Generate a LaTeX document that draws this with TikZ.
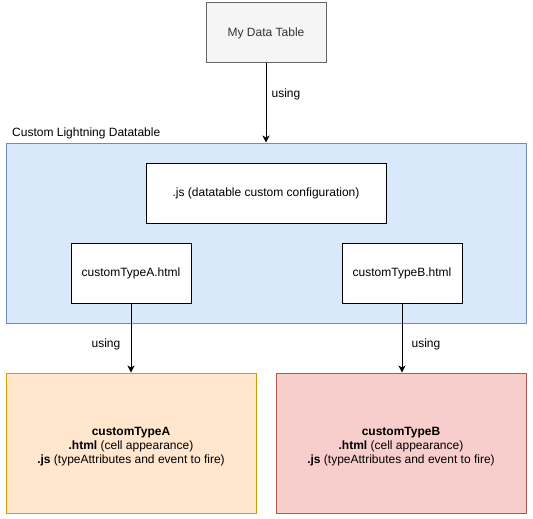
\documentclass[tikz,border=0pt]{standalone}
\usepackage{fontspec}
\setmainfont{Liberation Sans}
\usetikzlibrary{arrows.meta}
\definecolor{grayfill}{HTML}{F5F5F5}
\definecolor{grayline}{HTML}{666666}
\definecolor{graytext}{HTML}{333333}
\definecolor{bluefill}{HTML}{DAE8FC}
\definecolor{blueline}{HTML}{6C8EBF}
\definecolor{orangefill}{HTML}{FFE6CC}
\definecolor{orangeline}{HTML}{D79B00}
\definecolor{redfill}{HTML}{F8CECC}
\definecolor{redline}{HTML}{B85450}
\newcommand{\desclines}[1]{\raisebox{-3.5pt}[\height][\depth]{\begin{tabular}{@{}c@{}}\textbf{#1}\\\textbf{.html} (cell appearance)\\\textbf{.js} (typeAttributes and event to fire)\end{tabular}}}
\tikzset{
  base/.style={draw, line width=1pt, inner sep=0pt, align=center,
    font=\fontsize{12pt}{14pt}\selectfont},
  whitebox/.style={base, fill=white, draw=black, minimum width=120pt, minimum height=60pt},
  conn/.style={line width=1pt, -{Stealth[length=7pt,width=7pt,inset=2pt]}},
  lbl/.style={font=\fontsize{12pt}{14pt}\selectfont, inner sep=0pt},
}
\begin{document}
\begin{tikzpicture}[x=1pt,y=-1pt]
\useasboundingbox (0,0) rectangle (533,519);
\node[base, fill=grayfill, draw=grayline, text=graytext, minimum width=120pt, minimum height=60pt] (mdt) at (266,33) {My Data Table};
\node[base, fill=bluefill, draw=blueline, minimum width=520pt, minimum height=180pt] (cld) at (266,233) {};
\node[lbl, anchor=west] (cldlabel) at (12,133) {Custom Lightning Datatable};
\node[whitebox, minimum width=240pt] (js) at (266,193) {.js (datatable custom configuration)};
\node[whitebox] (ta) at (131,273) {customTypeA.html};
\node[whitebox] (tb) at (402,273) {customTypeB.html};
\node[base, fill=orangefill, draw=orangeline, minimum width=250pt, minimum height=140pt] (ca) at (131,443)
  {\desclines{customTypeA}};
\node[base, fill=redfill, draw=redline, minimum width=250pt, minimum height=140pt] (cb) at (401,443)
  {\desclines{customTypeB}};
\draw[conn] (mdt.south) -- (cld.north);
\draw[conn] (ta.south) -- (ta.south |- ca.north);
\draw[conn] (tb.south) -- (tb.south |- cb.north);
\node[lbl] (u1) at (286,94) {using};
\node[lbl] (u2) at (106,344) {using};
\node[lbl] (u3) at (426,344) {using};
\end{tikzpicture}
\end{document}
